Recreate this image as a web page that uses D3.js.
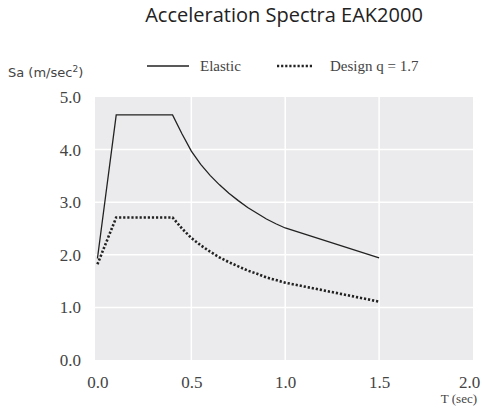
<!DOCTYPE html>
<html>
<head>
<meta charset="utf-8">
<script src="https://cdn.jsdelivr.net/npm/d3@7"></script>
<style>
  body { margin: 0; background: #fff; }
</style>
</head>
<body>
<div id="chart"></div>
<script>
// periods (sec) and spectral accelerations (m/sec2)
var periods = [0, 0.1, 0.4, 0.45, 0.5, 0.55, 0.6, 0.65, 0.7, 0.75, 0.8, 0.85, 0.9, 0.95, 1.0, 1.5];
var elastic = [1.93, 4.66, 4.66, 4.30, 3.97, 3.72, 3.51, 3.33, 3.17, 3.03, 2.90, 2.79, 2.68, 2.59, 2.51, 1.94];
var design  = [1.82, 2.71, 2.71, 2.50, 2.32, 2.18, 2.06, 1.95, 1.86, 1.78, 1.70, 1.64, 1.57, 1.52, 1.47, 1.11];
var xTicks = [0, 0.5, 1.0, 1.5, 2.0];
var yTicks = [0, 1, 2, 3, 4, 5];
var seriesNames = ["Elastic", "Design q = 1.7"];

var width = 482, height = 411;
var margin = {top: 97, right: 9, bottom: 51, left: 95};
var w = width - margin.left - margin.right,
    h = height - margin.top - margin.bottom;

var svg = d3.select("#chart").append("svg")
  .attr("width", width)
  .attr("height", height);

var g = svg.append("g")
  .attr("transform", "translate(" + margin.left + "," + margin.top + ")");

var x = d3.scaleLinear().domain([-0.013, 2]).range([0, w]);
var y = d3.scaleLinear().domain([0, 5]).range([h, 0]);

g.append("rect")
  .attr("width", w)
  .attr("height", h)
  .attr("fill", "#ebebed");

// grid
g.selectAll(".vgrid")
  .data(xTicks.filter(function (d) { return d > 0 && d < 2; }))
  .enter().append("line")
  .attr("x1", function (d) { return x(d); })
  .attr("x2", function (d) { return x(d); })
  .attr("y1", 0).attr("y2", h)
  .attr("stroke", "#fff").attr("stroke-width", 1.5);

g.selectAll(".hgrid")
  .data(yTicks.filter(function (d) { return d > 0 && d < 5; }))
  .enter().append("line")
  .attr("x1", 0).attr("x2", w)
  .attr("y1", function (d) { return y(d); })
  .attr("y2", function (d) { return y(d); })
  .attr("stroke", "#fff").attr("stroke-width", 1.5);

var tickFont = "'Liberation Serif', 'DejaVu Serif', serif";

var xAxis = g.append("g")
  .attr("transform", "translate(0," + h + ")")
  .call(d3.axisBottom(x).tickValues(xTicks).tickSize(0).tickPadding(16).tickFormat(d3.format(".1f")));
xAxis.select(".domain").remove();
xAxis.selectAll("text")
  .attr("fill", "#444")
  .style("font-size", "17px")
  .style("font-family", tickFont)
  .attr("dx", function (d) { return d === 2 ? -4 : 0; });

var yAxis = g.append("g")
  .call(d3.axisLeft(y).tickValues(yTicks).tickSize(0).tickPadding(14).tickFormat(d3.format(".1f")));
yAxis.select(".domain").remove();
yAxis.selectAll("text")
  .attr("fill", "#444")
  .style("font-size", "17px")
  .style("font-family", tickFont);

var line = d3.line()
  .x(function (d) { return x(d[0]); })
  .y(function (d) { return y(d[1]); });

g.append("path")
  .datum(d3.zip(periods, elastic))
  .attr("fill", "none")
  .attr("stroke", "#222")
  .attr("stroke-width", 1.3)
  .attr("d", line);

g.append("path")
  .datum(d3.zip(periods, design))
  .attr("fill", "none")
  .attr("stroke", "#222")
  .attr("stroke-width", 2.6)
  .attr("stroke-dasharray", "2.2,1.9")
  .attr("d", line);

// title
svg.append("text")
  .attr("x", 284)
  .attr("y", 22)
  .attr("text-anchor", "middle")
  .attr("fill", "#222")
  .style("font-size", "20px")
  .style("font-family", "'Open Sans', sans-serif")
  .text("Acceleration Spectra EAK2000");

// y label
var ylab = svg.append("text")
  .attr("x", 8)
  .attr("y", 77)
  .attr("fill", "#444")
  .style("font-size", "13px")
  .style("font-family", "'DejaVu Sans', sans-serif");
ylab.append("tspan").text("Sa (m/sec");
ylab.append("tspan").attr("dy", -5).style("font-size", "9px").text("2");
ylab.append("tspan").attr("dy", 5).text(")");

// x label
svg.append("text")
  .attr("x", 477)
  .attr("y", 403)
  .attr("text-anchor", "end")
  .attr("fill", "#444")
  .style("font-size", "13px")
  .style("font-family", tickFont)
  .text("T (sec)");

// legend
var legend = svg.append("g");
legend.append("line")
  .attr("x1", 147).attr("x2", 189).attr("y1", 66).attr("y2", 66)
  .attr("stroke", "#222").attr("stroke-width", 1.3);
legend.append("text")
  .attr("x", 200).attr("y", 71)
  .attr("fill", "#444")
  .style("font-size", "15px")
  .style("font-family", tickFont)
  .text(seriesNames[0]);
legend.append("line")
  .attr("x1", 277).attr("x2", 312).attr("y1", 66).attr("y2", 66)
  .attr("stroke", "#222").attr("stroke-width", 2.6)
  .attr("stroke-dasharray", "2.2,1.9");
legend.append("text")
  .attr("x", 330).attr("y", 71)
  .attr("fill", "#444")
  .style("font-size", "15px")
  .style("font-family", tickFont)
  .text(seriesNames[1]);
</script>
</body>
</html>
